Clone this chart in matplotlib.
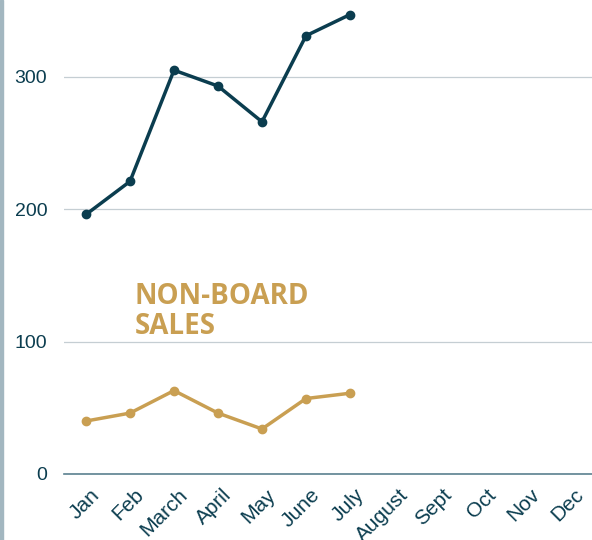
import matplotlib.pyplot as plt
from matplotlib.patches import Rectangle
from matplotlib.transforms import ScaledTranslation

months = ["Jan", "Feb", "March", "April", "May", "June", "July",
          "August", "Sept", "Oct", "Nov", "Dec"]
board_sales = [196, 221, 305, 293, 266, 331, 347]
non_board_sales = [40, 46, 63, 46, 34, 57, 61]
y_ticks = [0, 100, 200, 300]

dark = "#0b3d4f"
gold = "#c99f52"

plt.rcParams["font.family"] = ["Liberation Sans", "DejaVu Sans"]

fig = plt.figure(figsize=(5.92, 5.40), dpi=100)
ax = fig.add_axes([64 / 592, 66 / 540, 1 - 64 / 592, 1 - 66 / 540])

x = list(range(len(months)))
ax.plot(x[:len(board_sales)], board_sales, color=dark, lw=2.5,
        marker="o", ms=6, zorder=3)
ax.plot(x[:len(non_board_sales)], non_board_sales, color=gold, lw=2.5,
        marker="o", ms=6, zorder=3)

ax.set_xlim(-0.5, 11.5)
ax.set_ylim(0, 358)
ax.set_yticks(y_ticks)
ax.set_xticks(x)
ax.set_xticklabels(months, rotation=45, ha="right", rotation_mode="anchor")
ax.tick_params(length=0, colors=dark)
ax.tick_params(axis="y", pad=12, labelsize=14)
ax.tick_params(axis="x", pad=8, labelsize=15)
shift = ScaledTranslation(3 / 72, 0, fig.dpi_scale_trans)
for lbl in ax.get_xticklabels():
    lbl.set_transform(lbl.get_transform() + shift)

ax.grid(axis="y", color="#c5ced3", lw=0.9)
ax.set_axisbelow(True)
for s in ["top", "right", "left"]:
    ax.spines[s].set_visible(False)
ax.spines["bottom"].set_color("#5b8190")
ax.spines["bottom"].set_linewidth(1.2)

ax.text(1.1, 145, "NON-BOARD\nSALES",
        color=gold, fontsize=20, fontweight="bold", family="Open Sans",
        va="top", ha="left", linespacing=1.05)

fig.patches.append(Rectangle((0, 0), 3 / 592, 1, transform=fig.transFigure,
                             color="#a3b7c0", zorder=5))

fig.savefig("out.png", dpi=100)
